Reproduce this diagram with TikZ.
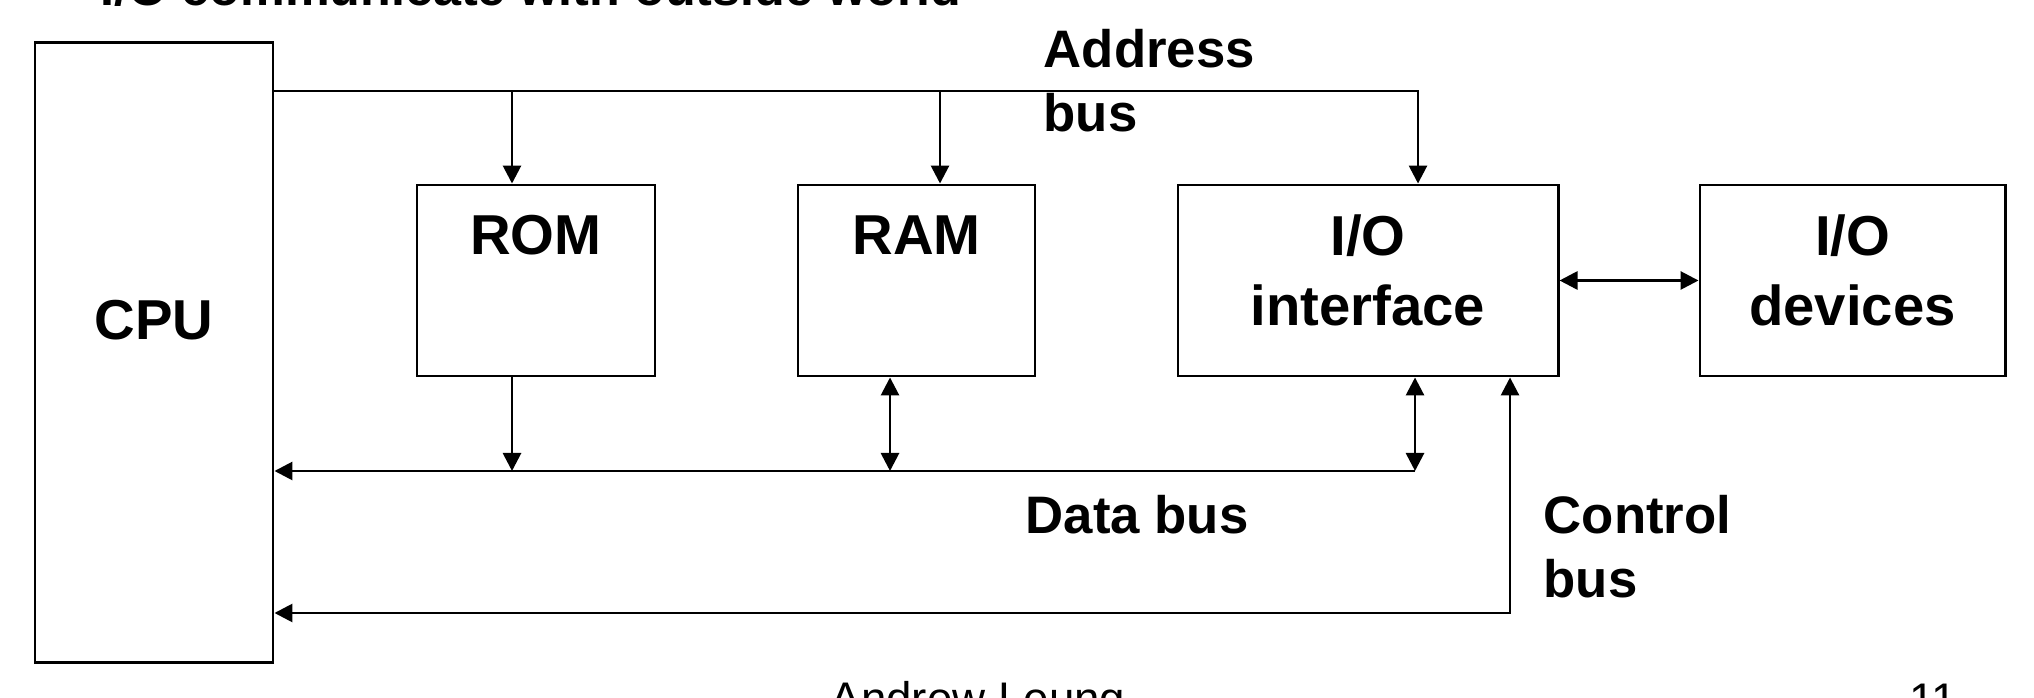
\documentclass[tikz,border=0pt]{standalone}
\usepackage{fontspec}
\setmainfont{Liberation Sans}
\usetikzlibrary{arrows.meta}

\begin{document}
\begin{tikzpicture}[
    x=0.01cm, y=-0.01cm,
    >={Triangle[length=0.18cm,width=0.18cm]},
    bus line/.style={line width=0.8pt},
    unit/.style={draw, line width=0.8pt, inner sep=0pt},
    every node/.style={color=black},
    lbl/.style={font=\bfseries\fontsize{16}{19.9}\selectfont, align=center, inner sep=0pt},
    buslbl/.style={lbl, align=left, font=\bfseries\fontsize{15}{18.2}\selectfont},
    foot/.style={font=\fontsize{13}{15}\selectfont, inner sep=0pt},
    ]
    \useasboundingbox (0,0) rectangle (2034,698);
    \clip (0,0) rectangle (2034,698);

    % boxes
    \node[unit, minimum width=2.38cm, minimum height=6.19cm] (cpu) at (154,352.5) {};
    \node[unit, minimum width=2.38cm, minimum height=1.91cm] (rom) at (536,280.5) {};
    \node[unit, minimum width=2.37cm, minimum height=1.91cm] (ram) at (916.5,280.5) {};
    \node[unit, minimum width=3.80cm, minimum height=1.91cm] (io) at (1368,280.5) {};
    \node[unit, minimum width=3.05cm, minimum height=1.91cm] (dev) at (1852.5,280.5) {};
    % box texts
    \node[lbl] (cputext) at (154,320) {CPU};
    \node[lbl] (romtext) at (536,235) {ROM};
    \node[lbl] (ramtext) at (916.5,235) {RAM};
    \node[lbl] (iotext) at (1368,270) {I/O\\interface};
    \node[lbl] (devtext) at (1852.5,270) {I/O\\devices};

    % bus taps
    \coordinate (a1) at (512,91);
    \coordinate (a2) at (940,91);
    \coordinate (a3) at (1418,91);
    \coordinate (d1) at (512,471);
    \coordinate (d2) at (890,471);
    \coordinate (d3) at (1415,471);
    \coordinate (c1) at (1510,613);

    % address bus
    \draw[bus line,->] (cpu.east |- a3) -- (a3) -- (io.north -| a3);
    \draw[bus line,->] (a1) -- (a1 |- rom.north);
    \draw[bus line,->] (a2) -- (a2 |- ram.north);
    % data bus
    \draw[bus line,->] (d3) -- (cpu.east |- d3);
    \draw[bus line,->] (rom.south -| d1) -- (d1);
    \draw[bus line,<->] (ram.south -| d2) -- (d2);
    \draw[bus line,<->] (io.south -| d3) -- (d3);
    % control bus
    \draw[bus line,<->] (cpu.east |- c1) -- (c1) -- (io.south -| c1);
    % i/o link
    \draw[bus line,<->] (io) -- (dev);

    % bus labels
    \node[buslbl, anchor=west] (abus) at (1043,81) {Address\\bus};
    \node[buslbl] (dbus) at (1137,515) {Data bus};
    \node[buslbl, anchor=west] (cbus) at (1543,547) {Control\\bus};

    % slide title and footer, cut by the page edge
    \node[lbl, font=\bfseries\fontsize{14.3}{17}\selectfont, anchor=base west] (title) at (100,6) {I/O communicate with outside world};
    \node[foot, anchor=base] (author) at (978,715) {Andrew Leung};
    \node[foot, anchor=base east] (page) at (1958,716) {11};
\end{tikzpicture}
\end{document}
